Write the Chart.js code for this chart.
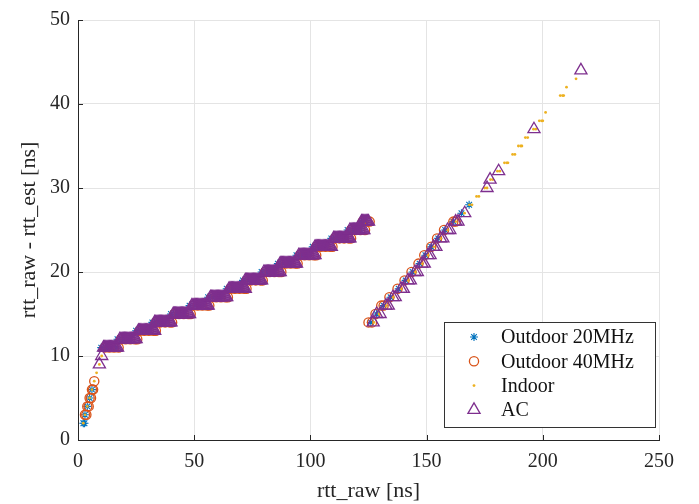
<!DOCTYPE html>
<html>
<head>
<meta charset="utf-8">
<script src="https://cdn.jsdelivr.net/npm/chart.js@4/dist/chart.umd.min.js"></script>
<style>
  html, body { margin: 0; padding: 0; background: #fff; }
  #wrap { width: 699px; height: 504px; }
</style>
</head>
<body>
<div id="wrap"><canvas id="chart" width="699" height="504"></canvas></div>
<script>
// axis ticks
const xTicks = [0, 50, 100, 150, 200, 250];
const yTicks = [0, 10, 20, 30, 40, 50];

// Outdoor 20MHz (rtt_raw, rtt_raw - rtt_est)
const outdoor20 = [
  [2.3, 2], [2.8, 2], [3, 3], [4, 4], [5, 5], [6, 6],
  [10, 11], [12, 11], [14, 11], [16, 11],
  [17, 12], [19, 12], [21, 12], [23, 12],
  [25, 13], [27, 13], [29, 13], [31, 13],
  [32, 14], [34, 14], [36, 14], [38, 14],
  [40, 15], [42, 15], [44, 15], [46, 15],
  [48, 16], [50, 16], [52, 16], [54, 16],
  [56, 17], [58, 17], [60, 17], [62, 17],
  [64, 18], [66, 18], [68, 18], [70, 18],
  [71, 19], [73, 19], [75, 19], [77, 19],
  [79, 20], [81, 20], [83, 20], [85, 20],
  [86, 21], [88, 21], [90, 21], [92, 21],
  [94, 22], [96, 22], [98, 22], [100, 22],
  [101, 23], [103, 23], [105, 23], [107, 23],
  [109, 24], [111, 24], [113, 24], [115, 24],
  [116, 25], [118, 25], [120, 25], [121.5, 25],
  [122, 26], [123.5, 26],
  [126, 14], [128.5, 15], [131.5, 16], [134.5, 17], [138, 18], [141, 19],
  [144, 20], [147, 21], [149.5, 22], [152, 23], [155, 24], [158, 25],
  [161.5, 26], [165, 27], [168.3, 28]
];

// Outdoor 40MHz
const outdoor40 = [
  [3, 3], [3.6, 3], [4, 4], [4.6, 4], [5, 5], [5.6, 5], [6, 6], [6.5, 6], [7, 7],
  [11.5, 11], [13.5, 11], [15.5, 11], [17.5, 11],
  [18.5, 12], [20.5, 12], [22.5, 12], [24.5, 12], [25.5, 12],
  [26.5, 13], [28.5, 13], [30.5, 13], [32.5, 13], [33.5, 13],
  [33.5, 14], [35.5, 14], [37.5, 14], [39.5, 14], [40.5, 14],
  [41.5, 15], [43.5, 15], [45.5, 15], [47.5, 15], [48.5, 15],
  [49.5, 16], [51.5, 16], [53.5, 16], [55.5, 16], [56.5, 16],
  [57.5, 17], [59.5, 17], [61.5, 17], [63.5, 17], [64.5, 17],
  [65.5, 18], [67.5, 18], [69.5, 18], [71.5, 18], [72.5, 18],
  [72.5, 19], [74.5, 19], [76.5, 19], [78.5, 19], [79.5, 19],
  [80.5, 20], [82.5, 20], [84.5, 20], [86.5, 20], [87.5, 20],
  [87.5, 21], [89.5, 21], [91.5, 21], [93.5, 21], [94.5, 21],
  [95.5, 22], [97.5, 22], [99.5, 22], [101.5, 22], [102.5, 22],
  [102.5, 23], [104.5, 23], [106.5, 23], [108.5, 23], [109.5, 23],
  [110.5, 24], [112.5, 24], [114.5, 24], [116.5, 24], [117.5, 24],
  [117.5, 25], [119.5, 25], [121.5, 25], [123.5, 25],
  [122.5, 26], [124.5, 26], [125.5, 26],
  [125, 14], [126.5, 14], [128, 15], [130.5, 16], [131.5, 16], [134, 17],
  [137.5, 18], [140.5, 19], [143.5, 20], [146.5, 21], [149, 22], [152, 23],
  [154.5, 24], [157.5, 25], [161.5, 26], [162.5, 26]
];

// Indoor
const indoor = [
  [2.3, 2], [3, 3], [4, 4], [5, 5], [6, 6], [7, 7], [8, 8], [9.2, 9], [10.2, 10],
  [124.8, 26],
  [127.3, 14], [129.5, 15], [132.5, 16], [135.5, 17], [139, 18], [142, 19],
  [145, 20], [148, 21], [150.5, 22], [153, 23], [156, 24], [159, 25],
  [162.5, 26], [166.3, 27],
  [168.4, 28], [169.5, 28], [171.5, 29], [172.5, 29], [175, 30], [176, 30],
  [177.5, 31], [178.5, 31], [180.5, 32], [181.5, 32],
  [183.5, 33], [184.5, 33], [185, 33], [187, 34], [188, 34],
  [189.5, 35], [190.5, 35], [191, 35], [192.5, 36], [193.5, 36],
  [196, 37], [197, 37], [198.5, 38], [199.5, 38], [200, 38], [201.2, 39],
  [207.5, 41], [208.5, 41], [209, 41], [210.2, 42], [214.3, 43]
];

// AC
const ac = [
  [9.2, 9], [10.2, 10],
  [11, 11], [11.5, 11], [12, 11], [12.5, 11], [13, 11], [13.5, 11], [14, 11], [14.5, 11],
  [15, 11], [15.5, 11], [16, 11], [16.5, 11], [17, 11],
  [18, 12], [18.5, 12], [19, 12], [19.5, 12], [20, 12], [20.5, 12], [21, 12], [21.5, 12],
  [22, 12], [22.5, 12], [23, 12], [23.5, 12], [24, 12], [24.5, 12], [25, 12],
  [26, 13], [26.5, 13], [27, 13], [27.5, 13], [28, 13], [28.5, 13], [29, 13], [29.5, 13],
  [30, 13], [30.5, 13], [31, 13], [31.5, 13], [32, 13], [32.5, 13], [33, 13],
  [33, 14], [33.5, 14], [34, 14], [34.5, 14], [35, 14], [35.5, 14], [36, 14], [36.5, 14],
  [37, 14], [37.5, 14], [38, 14], [38.5, 14], [39, 14], [39.5, 14], [40, 14],
  [41, 15], [41.5, 15], [42, 15], [42.5, 15], [43, 15], [43.5, 15], [44, 15], [44.5, 15],
  [45, 15], [45.5, 15], [46, 15], [46.5, 15], [47, 15], [47.5, 15], [48, 15],
  [49, 16], [49.5, 16], [50, 16], [50.5, 16], [51, 16], [51.5, 16], [52, 16], [52.5, 16],
  [53, 16], [53.5, 16], [54, 16], [54.5, 16], [55, 16], [55.5, 16], [56, 16],
  [57, 17], [57.5, 17], [58, 17], [58.5, 17], [59, 17], [59.5, 17], [60, 17], [60.5, 17],
  [61, 17], [61.5, 17], [62, 17], [62.5, 17], [63, 17], [63.5, 17], [64, 17],
  [65, 18], [65.5, 18], [66, 18], [66.5, 18], [67, 18], [67.5, 18], [68, 18], [68.5, 18],
  [69, 18], [69.5, 18], [70, 18], [70.5, 18], [71, 18], [71.5, 18], [72, 18],
  [72, 19], [72.5, 19], [73, 19], [73.5, 19], [74, 19], [74.5, 19], [75, 19], [75.5, 19],
  [76, 19], [76.5, 19], [77, 19], [77.5, 19], [78, 19], [78.5, 19], [79, 19],
  [80, 20], [80.5, 20], [81, 20], [81.5, 20], [82, 20], [82.5, 20], [83, 20], [83.5, 20],
  [84, 20], [84.5, 20], [85, 20], [85.5, 20], [86, 20], [86.5, 20], [87, 20],
  [87, 21], [87.5, 21], [88, 21], [88.5, 21], [89, 21], [89.5, 21], [90, 21], [90.5, 21],
  [91, 21], [91.5, 21], [92, 21], [92.5, 21], [93, 21], [93.5, 21], [94, 21],
  [95, 22], [95.5, 22], [96, 22], [96.5, 22], [97, 22], [97.5, 22], [98, 22], [98.5, 22],
  [99, 22], [99.5, 22], [100, 22], [100.5, 22], [101, 22], [101.5, 22], [102, 22],
  [102, 23], [102.5, 23], [103, 23], [103.5, 23], [104, 23], [104.5, 23], [105, 23], [105.5, 23],
  [106, 23], [106.5, 23], [107, 23], [107.5, 23], [108, 23], [108.5, 23], [109, 23],
  [110, 24], [110.5, 24], [111, 24], [111.5, 24], [112, 24], [112.5, 24], [113, 24], [113.5, 24],
  [114, 24], [114.5, 24], [115, 24], [115.5, 24], [116, 24], [116.5, 24], [117, 24],
  [117, 25], [117.5, 25], [118, 25], [118.5, 25], [119, 25], [119.5, 25], [120, 25], [120.5, 25],
  [121, 25], [121.5, 25], [122, 25], [122.5, 25], [123, 25],
  [122, 26], [122.5, 26], [123, 26], [123.5, 26], [124, 26], [124.5, 26], [125, 26],
  [127, 14], [128.5, 15], [130, 15], [132.5, 16], [133.5, 16], [135.5, 17], [136.5, 17],
  [139, 18], [140, 18], [142, 19], [143, 19], [145, 20], [146, 20], [148, 21], [149, 21],
  [150.5, 22], [151.5, 22], [153, 23], [154, 23], [156, 24], [157, 24], [159, 25], [160, 25],
  [162.5, 26], [163.5, 26], [166.4, 27],
  [176, 30], [177.3, 31], [181, 32], [196.2, 37], [216.4, 44]
];

const seriesNames = ['Outdoor 20MHz', 'Outdoor 40MHz', 'Indoor', 'AC'];
const seriesColors = ['#0072BD', '#D95319', '#EDB120', '#7E2F8E'];

const toXY = (arr) => arr.map(p => ({ x: p[0], y: p[1] }));
const SERIF = "'Liberation Serif', 'DejaVu Serif', serif";
const AXIS = '#262626';

const markerStyles = [
  { pointStyle: 'star', radius: 4, borderWidth: 1.1, fill: false },
  { pointStyle: 'circle', radius: 4.6, borderWidth: 1.3, fill: false },
  { pointStyle: 'circle', radius: 1.4, borderWidth: 0, fill: true },
  { pointStyle: 'triangle', radius: 7, borderWidth: 1.3, fill: false }
];

// ticks pointing into the plot, like the original
const innerTicks = {
  id: 'innerTicks',
  afterDraw(chart) {
    const { ctx, chartArea, scales } = chart;
    ctx.save();
    ctx.strokeStyle = AXIS;
    ctx.lineWidth = 1;
    ctx.beginPath();
    xTicks.forEach(v => {
      const px = Math.round(scales.x.getPixelForValue(v)) + 0.5;
      ctx.moveTo(px, chartArea.bottom);
      ctx.lineTo(px, chartArea.bottom - 5);
    });
    yTicks.forEach(v => {
      const py = Math.round(scales.y.getPixelForValue(v)) + 0.5;
      ctx.moveTo(chartArea.left, py);
      ctx.lineTo(chartArea.left + 5, py);
    });
    ctx.stroke();
    ctx.restore();
  }
};

// legend box inside the plot, bottom right
const boxLegend = {
  id: 'boxLegend',
  afterDraw(chart) {
    const ctx = chart.ctx;
    const bx = 444.5, by = 322.5, bw = 211, bh = 105;
    ctx.save();
    ctx.fillStyle = '#fff';
    ctx.fillRect(bx, by, bw, bh);
    ctx.strokeStyle = '#333';
    ctx.lineWidth = 1;
    ctx.strokeRect(bx, by, bw, bh);
    ctx.font = '20px ' + SERIF;
    ctx.textBaseline = 'middle';
    ctx.textAlign = 'left';
    seriesNames.forEach((name, i) => {
      const y = 337 + i * 24.3;
      const m = markerStyles[i];
      ctx.strokeStyle = seriesColors[i];
      ctx.fillStyle = m.fill ? seriesColors[i] : 'rgba(0,0,0,0)';
      ctx.lineWidth = m.borderWidth;
      Chart.helpers.drawPoint(ctx, {
        pointStyle: m.pointStyle, radius: m.radius, rotation: 0, borderWidth: m.borderWidth
      }, 474, y);
      ctx.fillStyle = '#111';
      ctx.fillText(name, 501, y + 1);
    });
    ctx.restore();
  }
};

const allSeries = [outdoor20, outdoor40, indoor, ac];

new Chart(document.getElementById('chart'), {
  type: 'scatter',
  data: {
    datasets: allSeries.map((arr, i) => ({
      label: seriesNames[i],
      data: toXY(arr),
      pointStyle: markerStyles[i].pointStyle,
      pointRadius: markerStyles[i].radius,
      pointBorderWidth: markerStyles[i].borderWidth,
      borderColor: seriesColors[i],
      backgroundColor: markerStyles[i].fill ? seriesColors[i] : 'rgba(0,0,0,0)',
      order: 3 - i
    }))
  },
  options: {
    responsive: false,
    animation: false,
    devicePixelRatio: 1,
    layout: { padding: { top: 18, right: 40, left: 0, bottom: 0 } },
    plugins: {
      legend: { display: false },
      tooltip: { enabled: false }
    },
    scales: {
      x: {
        type: 'linear',
        min: 0,
        max: 250,
        afterFit: (s) => { s.height = 64; },
        afterBuildTicks: (s) => { s.ticks = xTicks.map(v => ({ value: v })); },
        ticks: { font: { family: SERIF, size: 20 }, color: AXIS, padding: 10 },
        grid: { color: '#e4e4e4', drawTicks: false },
        border: { display: true, color: AXIS, width: 1 },
        title: {
          display: true,
          text: 'rtt_raw [ns]',
          font: { family: SERIF, size: 22 },
          color: AXIS,
          padding: { top: 0, bottom: 0 }
        }
      },
      y: {
        type: 'linear',
        min: 0,
        max: 50,
        afterFit: (s) => { s.width = 78; },
        afterBuildTicks: (s) => { s.ticks = yTicks.map(v => ({ value: v })); },
        ticks: { font: { family: SERIF, size: 20 }, color: AXIS, padding: 8 },
        grid: { color: '#e4e4e4', drawTicks: false },
        border: { display: true, color: AXIS, width: 1 },
        title: {
          display: true,
          text: 'rtt_raw - rtt_est [ns]',
          font: { family: SERIF, size: 22 },
          color: AXIS,
          padding: { top: 16, bottom: 0 }
        }
      }
    }
  },
  plugins: [innerTicks, boxLegend]
});
</script>
</body>
</html>
